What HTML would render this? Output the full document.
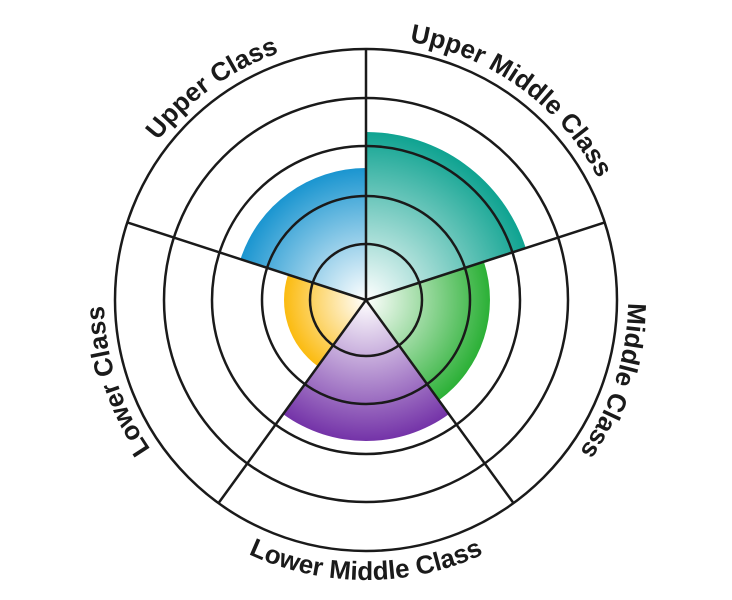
<!DOCTYPE html>
<html><head><meta charset="utf-8"><style>
html,body{margin:0;padding:0;background:#fff;}
svg{display:block;}
text{font-family:"Liberation Sans","DejaVu Sans",sans-serif;font-weight:bold;font-size:26px;fill:#1a1a1a;}
</style></head><body>
<svg width="732" height="600" viewBox="0 0 732 600" xmlns="http://www.w3.org/2000/svg">
<defs>
<radialGradient id="gt" gradientUnits="userSpaceOnUse" cx="366" cy="300" r="168"><stop offset="0" stop-color="#fff"/><stop offset="1" stop-color="#0fa391"/></radialGradient>
<radialGradient id="gg" gradientUnits="userSpaceOnUse" cx="366" cy="300" r="124"><stop offset="0" stop-color="#fff"/><stop offset="1" stop-color="#2bb036"/></radialGradient>
<radialGradient id="gp" gradientUnits="userSpaceOnUse" cx="366" cy="300" r="141"><stop offset="0" stop-color="#fff"/><stop offset="1" stop-color="#7433a8"/></radialGradient>
<radialGradient id="gy" gradientUnits="userSpaceOnUse" cx="366" cy="300" r="82"><stop offset="0" stop-color="#fff"/><stop offset="1" stop-color="#fbbb10"/></radialGradient>
<radialGradient id="gb" gradientUnits="userSpaceOnUse" cx="366" cy="300" r="132"><stop offset="0" stop-color="#fff"/><stop offset="1" stop-color="#1a95d0"/></radialGradient>
<path id="cw" d="M366 38 A262 262 0 1 1 365.99 38"/>
<path id="ccw" d="M86 300 A280 280 0 0 0 646 300"/>
</defs>
<path d="M366 300 L366 132 A168 168 0 0 1 525.8 248.1 Z" fill="url(#gt)"/>
<path d="M366 300 L483.9 261.7 A124 124 0 0 1 438.9 400.3 Z" fill="url(#gg)"/>
<path d="M366 300 L448.9 414.1 A141 141 0 0 1 283.1 414.1 Z" fill="url(#gp)"/>
<path d="M366 300 L317.8 366.3 A82 82 0 0 1 288 274.7 Z" fill="url(#gy)"/>
<path d="M366 300 L240.5 259.2 A132 132 0 0 1 366 168 Z" fill="url(#gb)"/>
<g fill="none" stroke="#1a1a1a" stroke-width="2.5">
<circle cx="366" cy="300" r="56"/>
<circle cx="366" cy="300" r="104"/>
<circle cx="366" cy="300" r="154"/>
<circle cx="366" cy="300" r="202"/>
<circle cx="366" cy="300" r="251"/>
<line x1="366" y1="300" x2="366" y2="49"/>
<line x1="366" y1="300" x2="604.7" y2="222.4"/>
<line x1="366" y1="300" x2="513.5" y2="503.1"/>
<line x1="366" y1="300" x2="218.5" y2="503.1"/>
<line x1="366" y1="300" x2="127.3" y2="222.4"/>
</g>
<text text-anchor="middle"><textPath href="#cw" startOffset="10%">Upper Middle Class</textPath></text>
<text text-anchor="middle"><textPath href="#cw" startOffset="30%">Middle Class</textPath></text>
<text text-anchor="middle"><textPath href="#cw" startOffset="70%">Lower Class</textPath></text>
<text text-anchor="middle"><textPath href="#cw" startOffset="90%">Upper Class</textPath></text>
<text text-anchor="middle"><textPath href="#ccw" startOffset="50%">Lower Middle Class</textPath></text>
</svg>
</body></html>
